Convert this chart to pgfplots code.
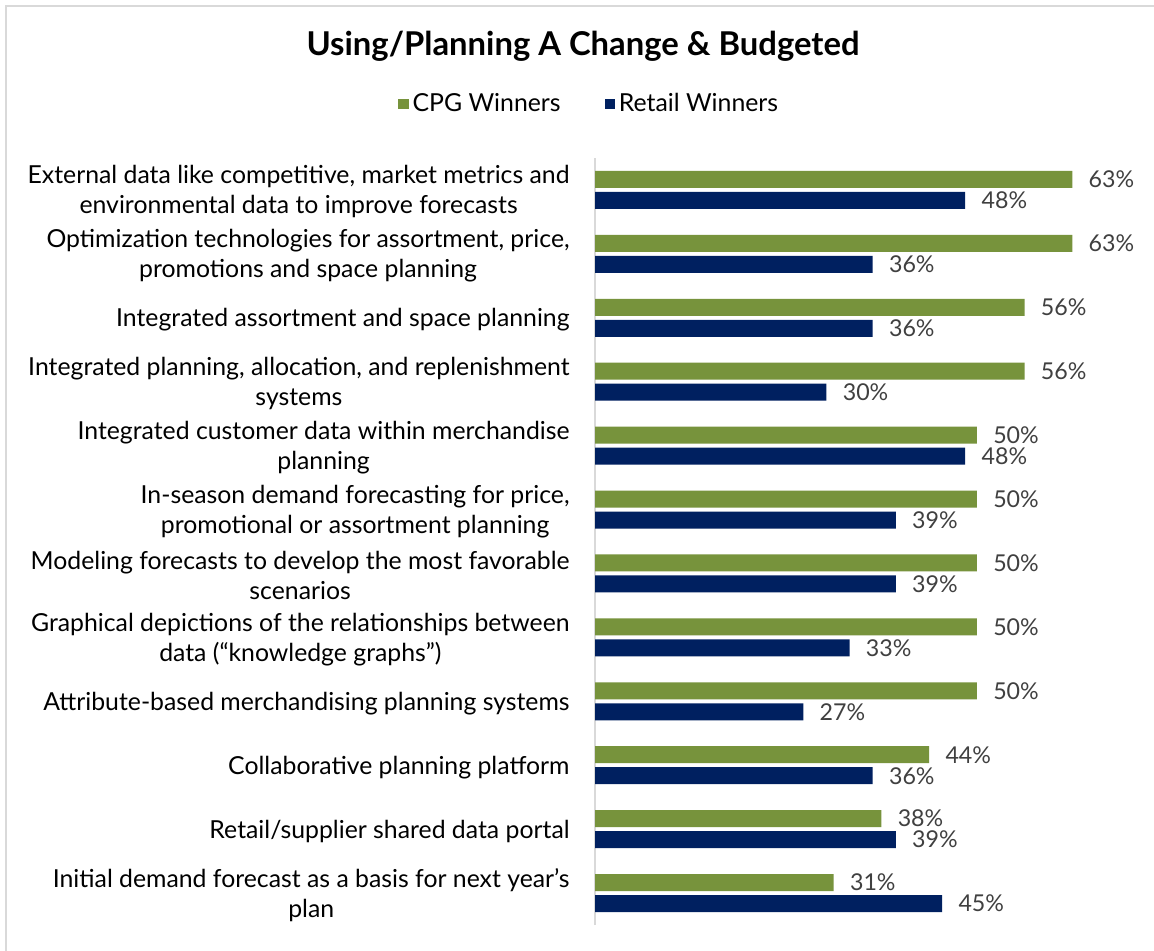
\documentclass[border=0pt]{standalone}
\usepackage{fontspec}
\setmainfont{Lato}
\usepackage{pgfplots}
\usepackage{pgfplotstable}
\pgfplotsset{compat=1.18}
\definecolor{cpg}{HTML}{77933C}
\definecolor{retail}{HTML}{002060}
\definecolor{lbl}{HTML}{404040}
\definecolor{framegray}{HTML}{D9D9D9}

% idx 11 = top category; labels are the rounded shares shown on the chart
\pgfplotstableread{
idx cpg   cpglab retail retaillab
11  62.5  63     48.48  48
10  62.5  63     36.36  36
9   56.25 56     36.36  36
8   56.25 56     30.30  30
7   50    50     48.48  48
6   50    50     39.39  39
5   50    50     39.39  39
4   50    50     33.33  33
3   50    50     27.27  27
2   43.75 44     36.36  36
1   37.5  38     39.39  39
0   31.25 31     45.45  45
}\datatable

\newcommand{\catfont}{\fontsize{12.4bp}{15bp}\selectfont}
\newcommand{\lblfont}{\fontsize{11.6bp}{14bp}\selectfont}

\begin{document}
\begin{tikzpicture}
\useasboundingbox (0,0) rectangle (577bp,-475.5bp);
\fill[white] (0,0) rectangle (577bp,-475.5bp);
\draw[framegray, line width=1.2bp] (3bp,-475.5bp) -- (3bp,-3bp) -- (577bp,-3bp);
\node[font=\fontsize{16.4bp}{19bp}\selectfont\bfseries] at (291.5bp,-23bp) {Using/Planning A Change \& Budgeted};
\begin{axis}[
  at={(297.5bp,-462.5bp)}, anchor=south west,
  scale only axis, width=267.3bp, height=383.5bp,
  xbar, bar width=8.5bp,
  xmin=0, xmax=70, ymin=-0.5, ymax=11.5,
  axis x line=none, axis y line*=left,
  axis line style={framegray, line width=0.8bp},
  ytick={0,...,11}, major tick length=0pt,
  yticklabel style={align=center, font=\catfont, text=black, inner sep=0pt, xshift=-12.5bp, yshift=-1bp},
  yticklabels={
    {Initial demand forecast as a basis for next year's\\plan},
    {Retail/supplier shared data portal},
    {Collaborative planning platform},
    {Attribute-based merchandising planning systems},
    {Graphical depictions of the relationships between\\data (“knowledge graphs”)},
    {Modeling forecasts to develop the most favorable\\scenarios},
    {In-season demand forecasting for price,\\promotional or assortment planning},
    {Integrated customer data within merchandise\\planning},
    {Integrated planning, allocation, and replenishment\\systems},
    {Integrated assortment and space planning},
    {Optimization technologies for assortment, price,\\promotions and space planning},
    {External data like competitive, market metrics and\\environmental data to improve forecasts},
  },
  point meta=explicit symbolic,
  nodes near coords={\pgfplotspointmeta\%},
  every node near coord/.append style={font=\lblfont, text=lbl, anchor=west, inner sep=0pt, xshift=8bp},
  legend style={at={(-0.009,1.0704)}, anchor=center, draw=none, fill=none,
    legend columns=2, font=\catfont,
    /tikz/every even column/.append style={column sep=20bp}},
  legend image code/.code={\fill[#1] (0bp,-2.6bp) rectangle (5.2bp,2.6bp);},
  clip=false,
]
\addplot[fill=cpg, draw=none, bar shift=5.25bp] table[x=cpg, y=idx, meta=cpglab] {\datatable};
\addplot[fill=retail, draw=none, bar shift=-5.25bp] table[x=retail, y=idx, meta=retaillab] {\datatable};
\legend{CPG Winners, Retail Winners}
\end{axis}
\end{tikzpicture}
\end{document}
